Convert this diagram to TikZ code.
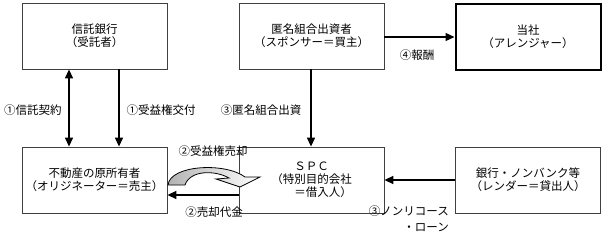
\documentclass[tikz,border=0pt]{standalone}
\usepackage{fontspec}
\setmainfont{Noto Sans CJK JP}
\usetikzlibrary{arrows.meta,calc}
\begin{document}
\begin{tikzpicture}[x=1pt,y=-1pt,
  box/.style={draw=black!75,line width=0.8pt,minimum width=145pt,minimum height=66pt,align=center,inner sep=0pt,font=\fontsize{11.5}{13}\selectfont},
  thickbox/.style={box,draw=black,line width=2pt},
  conn/.style={line width=1.4pt,-{Triangle[length=9pt,width=8pt]}},
  lbl/.style={font=\fontsize{11.5}{16}\selectfont,inner sep=0pt,align=left}]
\useasboundingbox (0,0) rectangle (605,233);
\node[box] (trust) at (94.5,36) {信託銀行\\（受託者）};
\node[box] (spons) at (311.5,36) {匿名組合出資者\\（スポンサー＝買主）};
\node[thickbox] (arr) at (528,36.5) {当社\\（アレンジャー）};
\node[box] (orig) at (94.5,180) {不動産の原所有者\\（オリジネーター＝売主）};
\node[box] (spc) at (311.5,180) {ＳＰＣ\\（特別目的会社\\\hphantom{（特}＝借入人）};
\node[box] (lend) at (528,180) {銀行・ノンバンク等\\（レンダー＝貸出人）};
\coordinate (xa) at (69,0);
\coordinate (xb) at (119,0);
\coordinate (xc) at (311,0);
\coordinate (ya) at (0,37);
\coordinate (yb) at (0,195);
\coordinate (yc) at (0,180);
\draw[conn,{Triangle[length=9pt,width=8pt]}-{Triangle[length=9pt,width=8pt]}] (trust.south -| xa) -- (orig.north -| xa);
\draw[conn] (trust.south -| xb) -- (orig.north -| xb);
\draw[conn] (spons.south -| xc) -- (spc.north -| xc);
\draw[conn] (spons.east |- ya) -- (arr.west |- ya);
\draw[conn] (spc.west |- yb) -- (orig.east |- yb);
\draw[conn] (lend.west |- yc) -- (spc.east |- yc);
\node[lbl] (l1) at (33,110) {①信託契約};
\node[lbl] (l2) at (161,110) {①受益権交付};
\node[lbl] (l3) at (261,110) {③匿名組合出資};
\node[lbl] (l4) at (417,55) {④報酬};
\node[lbl] (l5) at (213,151) {②受益権売却};
\node[lbl] (l6) at (214,212) {②売却代金};
\node[lbl,align=right,anchor=east] (l7) at (449,219) {③ノンリコース\\・ローン};
\path[draw=black,line width=0.8pt,left color=black!30,right color=white]
  (168,185) .. controls (170,165) and (225,162) .. (245,177) -- (260,177) -- (240,187) -- (216,179) -- (229,178)
  .. controls (215,170) and (190,170) .. (185,185) -- cycle;
\end{tikzpicture}
\end{document}
